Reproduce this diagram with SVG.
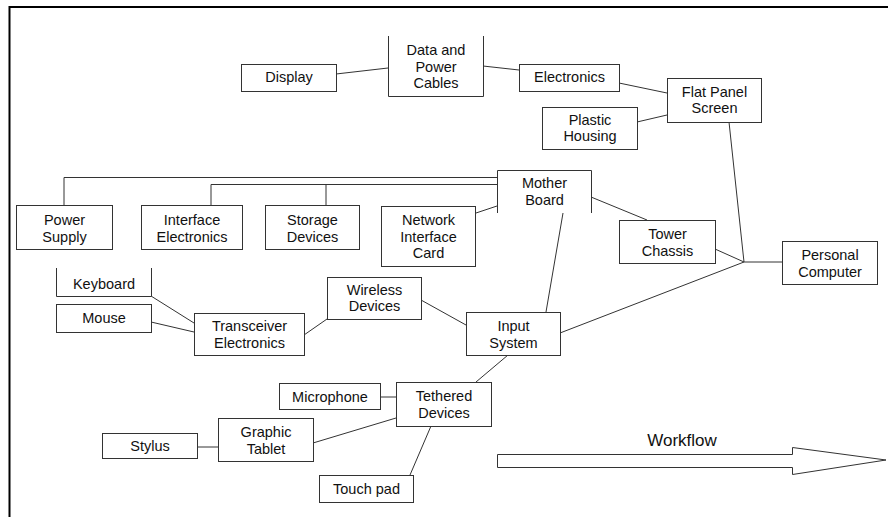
<svg xmlns="http://www.w3.org/2000/svg" width="888" height="517" viewBox="0 0 888 517">
  <style>
    .box { fill: #fff; stroke: #333; stroke-width: 1; }
    .edge { fill: none; stroke: #333; stroke-width: 1; }
    .lbl { font-family: "Liberation Sans", Arial, sans-serif; font-size: 14.5px; fill: #111; text-anchor: middle; }
    .big { font-family: "Liberation Sans", Arial, sans-serif; font-size: 17px; fill: #111; text-anchor: middle; }
  </style>
  <rect x="0" y="0" width="888" height="517" fill="#fff"/>
  <!-- page frame -->
  <path d="M9.5,517 V7 H888" fill="none" stroke="#000" stroke-width="2"/>

  <g id="connectors" class="edge">
    <line x1="336" y1="74" x2="388" y2="68"/>
    <line x1="483" y1="66" x2="519" y2="70"/>
    <line x1="619" y1="83" x2="667" y2="93"/>
    <line x1="637" y1="122" x2="667" y2="115"/>
    <line x1="729" y1="122" x2="744" y2="262"/>
    <line x1="744" y1="262" x2="782" y2="262"/>
    <line x1="715" y1="249" x2="744" y2="262"/>
    <line x1="560" y1="333" x2="744" y2="262"/>
    <line x1="591" y1="197" x2="647" y2="220"/>
    <line x1="563" y1="213" x2="546" y2="312"/>
    <line x1="476" y1="213" x2="497" y2="206"/>
    <polyline points="64,205 64,177.5 497,177.5"/>
    <polyline points="211,205 211,184.5 497,184.5"/>
    <line x1="326" y1="184.5" x2="326" y2="205"/>
    <line x1="151" y1="296" x2="194" y2="323"/>
    <line x1="151" y1="322" x2="194" y2="332"/>
    <line x1="304" y1="335" x2="327" y2="319"/>
    <line x1="421" y1="300" x2="466" y2="325"/>
    <line x1="508" y1="355" x2="476" y2="382"/>
    <line x1="381" y1="397" x2="396" y2="397"/>
    <line x1="313" y1="443" x2="396" y2="418"/>
    <line x1="197" y1="447" x2="218" y2="447"/>
    <line x1="431" y1="426" x2="410" y2="475"/>
  </g>

  <g id="display">
    <rect class="box" x="241.5" y="64.5" width="95" height="27"/>
    <text class="lbl" x="289" y="82">Display</text>
  </g>
  <g id="data-power-cables">
    <path class="box" d="M388.5,36 V96.5 H483.5 V36"/>
    <text class="lbl" x="436" y="55">Data and</text>
    <text class="lbl" x="436" y="71.5">Power</text>
    <text class="lbl" x="436" y="88">Cables</text>
  </g>
  <g id="electronics">
    <rect class="box" x="519.5" y="64.5" width="100" height="27"/>
    <text class="lbl" x="569.5" y="82">Electronics</text>
  </g>
  <g id="flat-panel-screen">
    <rect class="box" x="667.5" y="78.5" width="94" height="44"/>
    <text class="lbl" x="714.5" y="96.5">Flat Panel</text>
    <text class="lbl" x="714.5" y="113">Screen</text>
  </g>
  <g id="plastic-housing">
    <rect class="box" x="542.5" y="107.5" width="95" height="42"/>
    <text class="lbl" x="590" y="124.5">Plastic</text>
    <text class="lbl" x="590" y="141">Housing</text>
  </g>
  <g id="mother-board">
    <path class="box" d="M497.5,213 V170.5 H591.5 V213"/>
    <text class="lbl" x="544.5" y="188">Mother</text>
    <text class="lbl" x="544.5" y="204.5">Board</text>
  </g>
  <g id="power-supply">
    <rect class="box" x="16.5" y="205.5" width="96" height="44"/>
    <text class="lbl" x="64.5" y="225">Power</text>
    <text class="lbl" x="64.5" y="241.5">Supply</text>
  </g>
  <g id="interface-electronics">
    <rect class="box" x="141.5" y="205.5" width="101" height="44"/>
    <text class="lbl" x="192" y="225">Interface</text>
    <text class="lbl" x="192" y="241.5">Electronics</text>
  </g>
  <g id="storage-devices">
    <rect class="box" x="265.5" y="205.5" width="94" height="44"/>
    <text class="lbl" x="312.5" y="225">Storage</text>
    <text class="lbl" x="312.5" y="241.5">Devices</text>
  </g>
  <g id="network-interface-card">
    <rect class="box" x="381.5" y="206.5" width="94" height="60"/>
    <text class="lbl" x="428.5" y="225">Network</text>
    <text class="lbl" x="428.5" y="241.5">Interface</text>
    <text class="lbl" x="428.5" y="258">Card</text>
  </g>
  <g id="tower-chassis">
    <rect class="box" x="619.5" y="220.5" width="96" height="43"/>
    <text class="lbl" x="667.5" y="239">Tower</text>
    <text class="lbl" x="667.5" y="255.5">Chassis</text>
  </g>
  <g id="personal-computer">
    <rect class="box" x="782.5" y="241.5" width="95" height="43"/>
    <text class="lbl" x="830" y="260">Personal</text>
    <text class="lbl" x="830" y="276.5">Computer</text>
  </g>
  <g id="keyboard">
    <path class="box" d="M56.5,268 V296.5 H151.5 V268"/>
    <text class="lbl" x="104" y="289">Keyboard</text>
  </g>
  <g id="mouse">
    <rect class="box" x="56.5" y="304.5" width="95" height="28"/>
    <text class="lbl" x="104" y="323">Mouse</text>
  </g>
  <g id="transceiver-electronics">
    <rect class="box" x="194.5" y="313.5" width="110" height="42"/>
    <text class="lbl" x="249.5" y="331">Transceiver</text>
    <text class="lbl" x="249.5" y="347.5">Electronics</text>
  </g>
  <g id="wireless-devices">
    <rect class="box" x="327.5" y="277.5" width="94" height="42"/>
    <text class="lbl" x="374.5" y="294.5">Wireless</text>
    <text class="lbl" x="374.5" y="311">Devices</text>
  </g>
  <g id="input-system">
    <rect class="box" x="466.5" y="312.5" width="94" height="43"/>
    <text class="lbl" x="513.5" y="331">Input</text>
    <text class="lbl" x="513.5" y="347.5">System</text>
  </g>
  <g id="microphone">
    <rect class="box" x="279.5" y="383.5" width="101" height="26"/>
    <text class="lbl" x="330" y="401.5">Microphone</text>
  </g>
  <g id="tethered-devices">
    <rect class="box" x="396.5" y="382.5" width="95" height="44"/>
    <text class="lbl" x="444" y="401">Tethered</text>
    <text class="lbl" x="444" y="417.5">Devices</text>
  </g>
  <g id="graphic-tablet">
    <rect class="box" x="218.5" y="418.5" width="95" height="43"/>
    <text class="lbl" x="266" y="437">Graphic</text>
    <text class="lbl" x="266" y="453.5">Tablet</text>
  </g>
  <g id="stylus">
    <rect class="box" x="102.5" y="433.5" width="95" height="25"/>
    <text class="lbl" x="150" y="451">Stylus</text>
  </g>
  <g id="touch-pad">
    <rect class="box" x="319.5" y="475.5" width="94" height="27"/>
    <text class="lbl" x="366.5" y="493.5">Touch pad</text>
  </g>

  <g id="workflow">
    <polygon class="box" points="497.5,454.5 792.5,454.5 792.5,447.5 886,460 792.5,474.5 792.5,467.5 497.5,467.5"/>
    <text class="big" x="682" y="446">Workflow</text>
  </g>
</svg>
